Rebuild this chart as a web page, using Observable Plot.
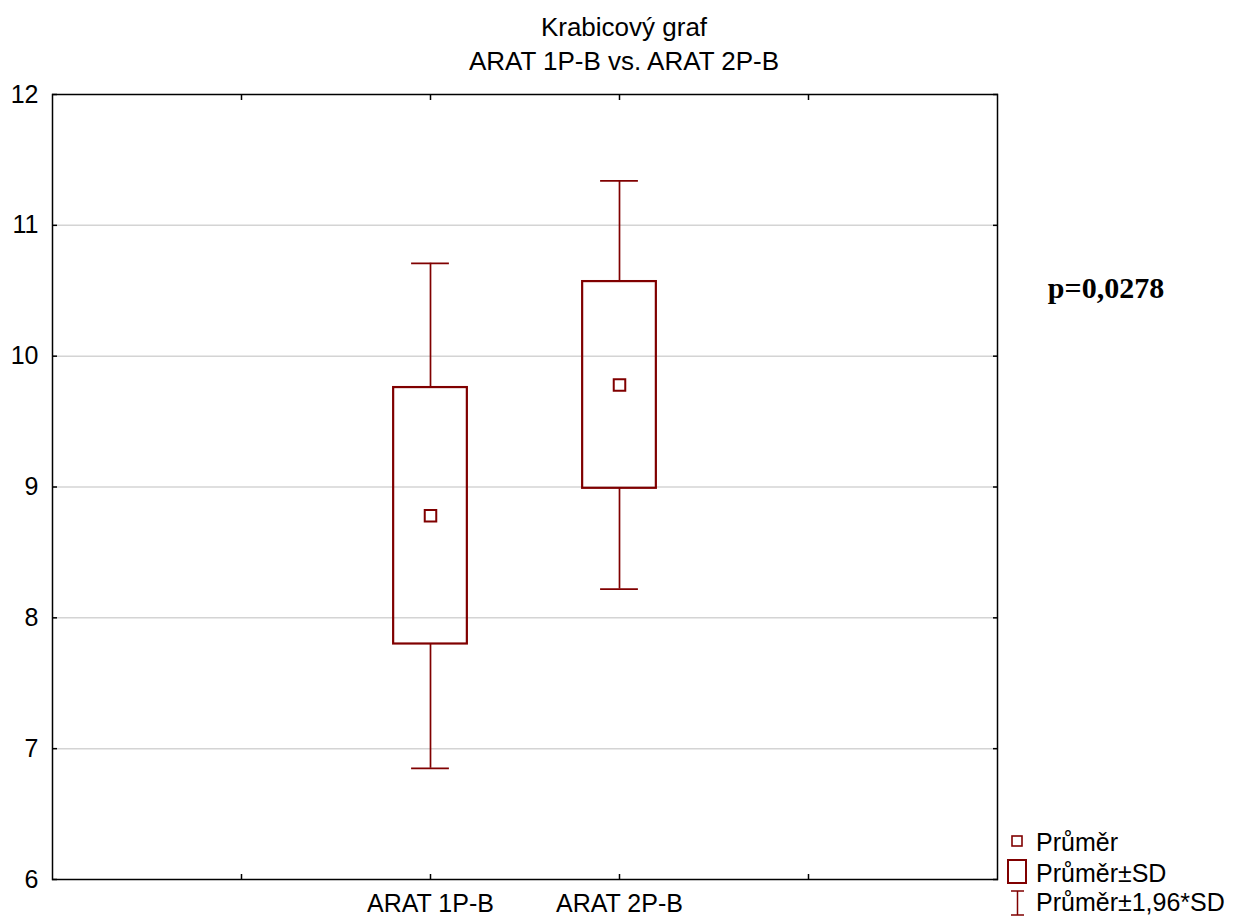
<!DOCTYPE html>
<html>
<head>
<meta charset="utf-8">
<script src="https://cdn.jsdelivr.net/npm/d3@7"></script>
<script src="https://cdn.jsdelivr.net/npm/@observablehq/plot@0.6"></script>
<style>
  html, body { margin: 0; padding: 0; background: #fff; }
  #wrap { position: relative; width: 1237px; height: 917px; }
  #overlay { position: absolute; left: 0; top: 0; pointer-events: none; }
</style>
</head>
<body>
<div id="wrap"></div>
<script>
// ---- data ----
const categories = ["ARAT 1P-B", "ARAT 2P-B"];
const slots = [2, 3];                // category slot on the x axis (0..5)
const means  = [8.78, 9.78];
const sdLow  = [7.80, 8.99];
const sdHigh = [9.76, 10.57];
const ciLow  = [6.85, 8.22];
const ciHigh = [10.71, 11.34];
const yTicks = [6, 7, 8, 9, 10, 11, 12];
const xTicks = [1, 2, 3, 4];
const titleLines = ["Krabicový graf", "ARAT 1P-B vs. ARAT 2P-B"];
const pText = "p=0,0278";
const legendLabels = ["Průměr", "Průměr±SD", "Průměr±1,96*SD"];

const rows = categories.map((c, i) => ({
  cat: c, slot: slots[i], mean: means[i],
  sdLow: sdLow[i], sdHigh: sdHigh[i], ciLow: ciLow[i], ciHigh: ciHigh[i]
}));

const RED = "#800000";
const boxHalf = 0.195, capHalf = 0.1;
const FONT = "'Liberation Sans', Arial, sans-serif";

const chart = Plot.plot({
  width: 1237, height: 917,
  marginLeft: 52, marginRight: 240, marginTop: 94, marginBottom: 38,
  style: { fontFamily: FONT, fontSize: "25px", background: "#fff", color: "#000" },
  x: { domain: [0, 5], axis: null },
  y: { domain: [6, 12], axis: null },
  marks: [
    Plot.gridY([7, 8, 9, 10, 11], { stroke: "#d4d4d4", strokeOpacity: 1, strokeWidth: 1.5 }),
    // y labels
    Plot.axisY(yTicks, { anchor: "left", label: null, tickSize: 0, tickPadding: 14, fontSize: 25,
      tickFormat: d => String(d) }),
    // inward ticks
    Plot.axisY(yTicks, { anchor: "left", label: null, tickSize: -5, tickFormat: () => "", strokeWidth: 1.5 }),
    Plot.axisY(yTicks, { anchor: "right", label: null, tickSize: -5, tickFormat: () => "", strokeWidth: 1.5 }),
    Plot.axisX(xTicks, { anchor: "bottom", label: null, tickSize: -5, tickFormat: () => "", strokeWidth: 1.5 }),
    Plot.axisX(xTicks, { anchor: "top", label: null, tickSize: -5, tickFormat: () => "", strokeWidth: 1.5 }),
    // x category labels
    Plot.axisX(slots, { anchor: "bottom", label: null, tickSize: 0, tickPadding: 15, fontSize: 25,
      tickFormat: d => categories[slots.indexOf(d)] }),
    // whiskers
    Plot.ruleX(rows, { x: "slot", y1: "sdHigh", y2: "ciHigh", stroke: RED, strokeWidth: 1.7 }),
    Plot.ruleX(rows, { x: "slot", y1: "ciLow", y2: "sdLow", stroke: RED, strokeWidth: 1.7 }),
    Plot.ruleY(rows, { y: "ciHigh", x1: d => d.slot - capHalf, x2: d => d.slot + capHalf, stroke: RED, strokeWidth: 1.7 }),
    Plot.ruleY(rows, { y: "ciLow", x1: d => d.slot - capHalf, x2: d => d.slot + capHalf, stroke: RED, strokeWidth: 1.7 }),
    // SD box
    Plot.rect(rows, { x1: d => d.slot - boxHalf, x2: d => d.slot + boxHalf, y1: "sdLow", y2: "sdHigh",
      fill: "none", stroke: RED, strokeWidth: 2.2 }),
    // mean
    Plot.dot(rows, { x: "slot", y: "mean", symbol: "square", r: 6.5, stroke: RED, strokeWidth: 2, fill: "#fff" }),
    Plot.frame({ stroke: "#000", strokeWidth: 1.5 })
  ]
});
document.getElementById("wrap").appendChild(chart);

// ---- overlay: title, p-value, legend ----
const ov = d3.select("#wrap").append("svg").attr("id", "overlay")
  .attr("width", 1237).attr("height", 917)
  .style("font-family", FONT);

ov.selectAll("text.title").data(titleLines).join("text")
  .attr("class", "title")
  .attr("x", 624).attr("y", (d, i) => 36 + i * 34)
  .attr("text-anchor", "middle").attr("font-size", 26).attr("fill", "#000")
  .text(d => d);

ov.append("text").attr("x", 1106).attr("y", 298)
  .attr("text-anchor", "middle")
  .attr("font-family", "'Liberation Serif', 'Times New Roman', serif")
  .attr("font-weight", "bold").attr("font-size", 30).attr("fill", "#000")
  .text(pText);

const lg = ov.append("g");
// icons
lg.append("rect").attr("x", 1012).attr("y", 836).attr("width", 10).attr("height", 10)
  .attr("fill", "none").attr("stroke", RED).attr("stroke-width", 1.6);
lg.append("rect").attr("x", 1008).attr("y", 860).attr("width", 18).attr("height", 23)
  .attr("fill", "none").attr("stroke", RED).attr("stroke-width", 2);
lg.append("path").attr("d", "M1011,891H1024M1017.5,891V915M1011,915H1024")
  .attr("fill", "none").attr("stroke", RED).attr("stroke-width", 1.5);
lg.selectAll("text").data(legendLabels).join("text")
  .attr("x", 1036).attr("y", (d, i) => [851, 882, 911][i])
  .attr("font-size", 25).attr("fill", "#000")
  .text(d => d);
</script>
</body>
</html>
